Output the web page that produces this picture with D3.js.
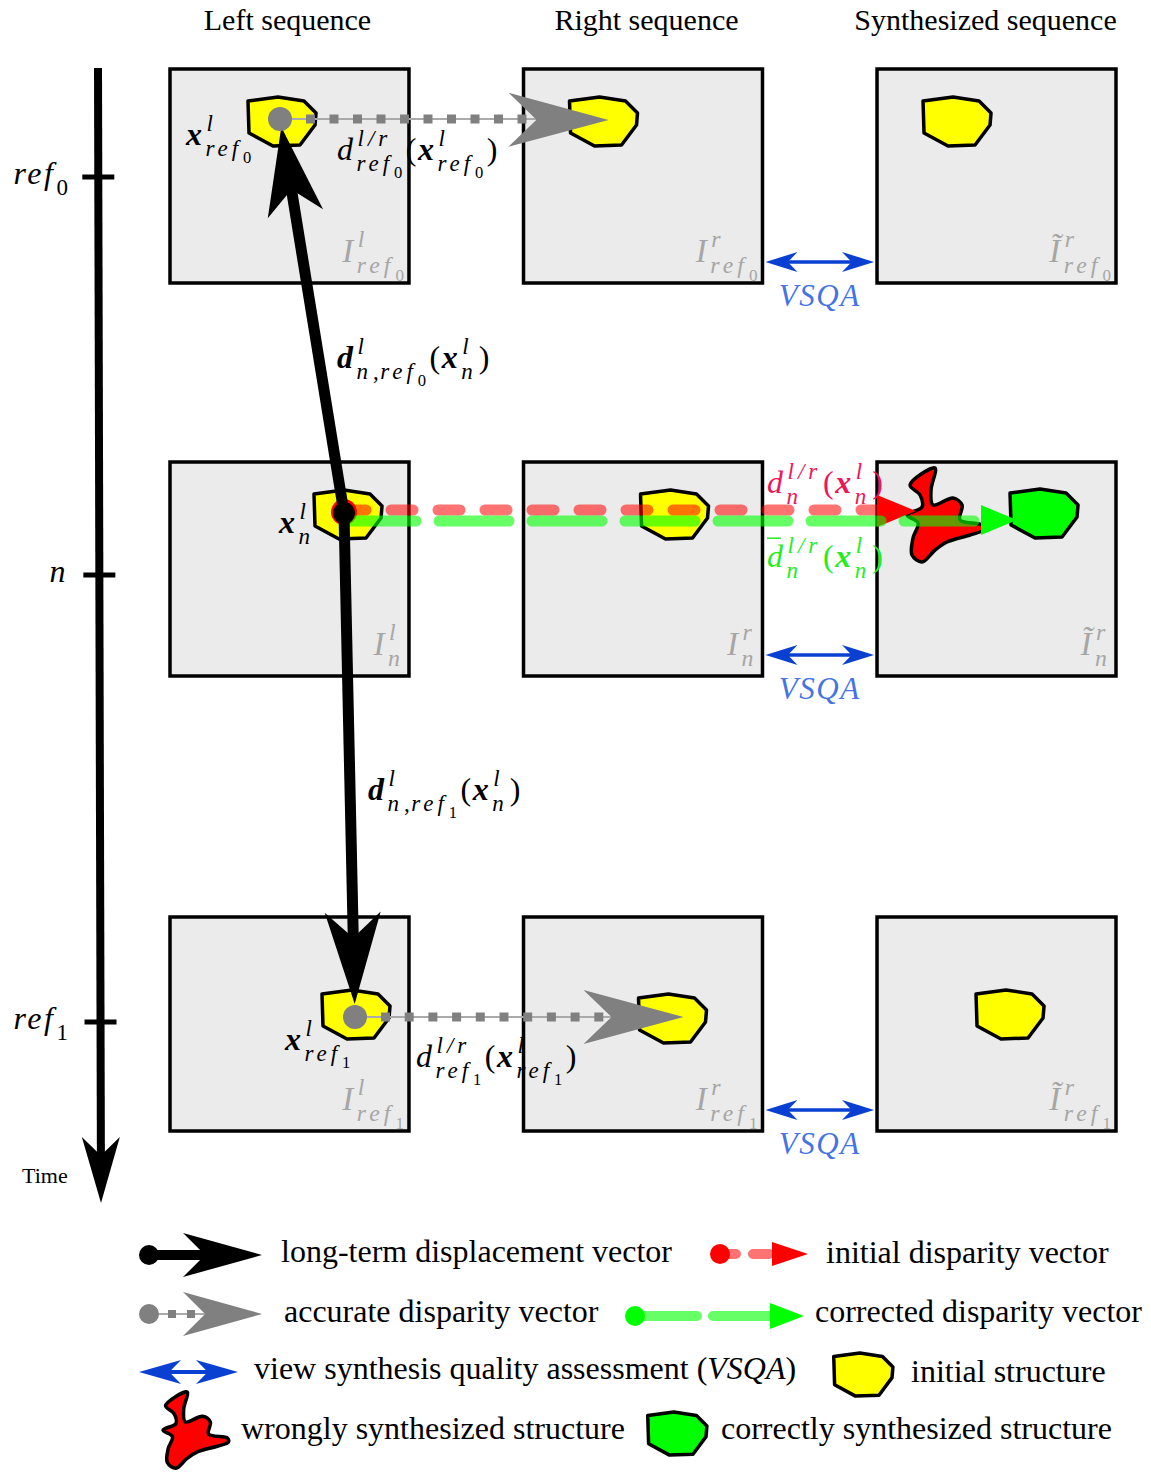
<!DOCTYPE html>
<html>
<head>
<meta charset="utf-8">
<script src="https://cdn.jsdelivr.net/npm/d3@7"></script>
<style>
  body { margin: 0; background: #fff; }
  text { font-family: "Liberation Serif", "Times New Roman", serif; }
</style>
</head>
<body>
<div id="chart"></div>
<script>
// ---------- content ----------
const columns = ['Left sequence', 'Right sequence', 'Synthesized sequence'];
const viewSup = ['l', 'r', 'r'];
const viewTilde = [false, false, true];
const frames = ['ref0', 'n', 'ref1'];

// what sits in each panel (frame, column, kind)
const structures = [
    { frame: 'ref0', col: 0, kind: 'initial' },
    { frame: 'ref0', col: 1, kind: 'initial' },
    { frame: 'ref0', col: 2, kind: 'initial' },
    { frame: 'n', col: 0, kind: 'initial' },
    { frame: 'n', col: 1, kind: 'initial' },
    { frame: 'n', col: 2, kind: 'wrong' },
    { frame: 'n', col: 2, kind: 'correct' },
    { frame: 'ref1', col: 0, kind: 'initial' },
    { frame: 'ref1', col: 1, kind: 'initial' },
    { frame: 'ref1', col: 2, kind: 'initial' }
];

const legendItems = [
    { key: 'long', label: 'long-term displacement vector' },
    { key: 'initVec', label: 'initial disparity vector' },
    { key: 'accurate', label: 'accurate disparity vector' },
    { key: 'corrected', label: 'corrected disparity vector' },
    { key: 'vsqa', label: 'view synthesis quality assessment (', italic: 'VSQA', tail: ')' },
    { key: 'initStruct', label: 'initial structure' },
    { key: 'wrong', label: 'wrongly synthesized structure' },
    { key: 'correct', label: 'correctly synthesized structure' }
];

const colors = {
    panel: '#ebebeb', initial: '#ffff00', correct: '#00ff00', wrong: '#ff0000',
    gray: '#808080', blue: '#0a40d2', vsqaText: '#4474e4',
    redLabel: '#f0145a', greenLabel: '#22ee22', imgLabel: '#a6a6a6'
};

// math helpers (text content)
const REF = k => [{ t: 'ref' }, { sub: [{ t: String(k), r: 1 }] }];
const FR = f => f === 'n' ? [{ t: 'n' }] : REF(f.slice(3));
const X = sub => [{ t: 'x', b: 1 }, { sup: [{ t: 'l' }], sub: sub }];

// ---------- layout ----------
const W = 1151, H = 1472;
const svg = d3.select('#chart').append('svg').attr('width', W).attr('height', H);

const xCol = d3.scaleBand().domain(columns).range([170, 1116]).paddingInner(0.324);
const yRow = d3.scaleOrdinal().domain(frames).range([69, 462, 917]);
const panelH = 214;
const panelW = xCol.bandwidth();
const P = (frame, ci, off) => [xCol(columns[ci]) + off[0], yRow(frame) + off[1]];
const headerShift = [-2, 3.5, -11];

const structOffset = {
    'ref0-0': [76, 28], 'ref0-1': [44, 28], 'ref0-2': [44, 28],
    'n-0': [142, 28], 'n-1': [115, 28], 'n-2-correct': [131, 27], 'n-2-wrong': [30, 6],
    'ref1-0': [150, 73], 'ref1-1': [113, 77], 'ref1-2': [97, 73]
};
const pointOffset = { ref0: [110, 50], n: [174, 51], ref1: [185, 100] };

const blob = [[2, 4], [32, 0], [58, 4], [70, 16], [69, 28], [54, 48], [27, 49], [3, 36]];
const star = [[3, 17], [28, 0], [24, 22], [26, 37], [46, 30], [55, 37], [53, 52], [75, 57], [76, 62],
    [63, 67], [40, 74], [28, 82], [15, 94], [5, 87], [6, 70], [11, 55], [0, 47], [15, 39], [13, 27]];

const polyLine = d3.line().curve(d3.curveLinearClosed);
const starLine = d3.line().curve(d3.curveCatmullRomClosed.alpha(0.5));

function drawShape(g, kind, x, y, sx, sy) {
    const pts = kind === 'wrong' ? star : blob;
    g.append('path')
        .attr('d', (kind === 'wrong' ? starLine : polyLine)(pts.map(p => [x + p[0] * sx, y + p[1] * sy])))
        .attr('fill', colors[kind])
        .attr('stroke', '#000').attr('stroke-width', 3.5).attr('stroke-linejoin', 'round');
}

// arrowhead: tip, direction taken from `from`; notch = distance of notch from tip (fraction of L)
function head(g, tip, from, L, Wd, notch, fill) {
    const dx = tip[0] - from[0], dy = tip[1] - from[1], len = Math.hypot(dx, dy);
    const ux = dx / len, uy = dy / len, nx = -uy, ny = ux;
    const bx = tip[0] - ux * L, by = tip[1] - uy * L;
    const pts = [tip, [bx + nx * Wd, by + ny * Wd], [tip[0] - ux * L * notch, tip[1] - uy * L * notch], [bx - nx * Wd, by - ny * Wd]];
    g.append('path').attr('d', d3.line()(pts) + 'Z').attr('fill', fill);
}

// math text renderer, returns end x
function math(g, x, y, items, size, color) {
    let cx = x;
    const script = size < 28;
    items.forEach(it => {
        if (it.t !== undefined) {
            const ls = it.r ? 0 : size * (script ? 0.17 : 0.08);
            const t = g.append('text').attr('x', cx).attr('y', y)
                .style('font-size', size + 'px')
                .style('font-style', it.r ? 'normal' : 'italic')
                .style('font-weight', it.b ? 'bold' : 'normal')
                .style('letter-spacing', ls + 'px')
                .attr('fill', color).text(it.t);
            const w = t.node().getComputedTextLength();
            if (it.bar) {
                g.append('line').attr('x1', cx).attr('x2', cx + w * 0.75)
                    .attr('y1', y - size * 0.9).attr('y2', y - size * 0.9)
                    .attr('stroke', color).attr('stroke-width', 1.5);
            }
            cx += w + (it.r ? 1.5 : 1);
        } else {
            const s = size * 0.72;
            const e1 = it.sup ? math(g, cx + 1, y - size * 0.45, it.sup, s, color) : cx;
            const e2 = it.sub ? math(g, cx, y + size * 0.33, it.sub, s, color) : cx;
            cx = Math.max(e1, e2) + 1;
        }
    });
    return cx;
}

const root = svg.append('g');

// ---------- column headers ----------
root.selectAll('text.header').data(columns).join('text')
    .attr('class', 'header')
    .attr('x', (d, i) => xCol(d) + panelW / 2 + headerShift[i])
    .attr('y', 30)
    .attr('text-anchor', 'middle')
    .style('font-size', '30px')
    .text(d => d);

// ---------- time axis ----------
const axisX = y => 98 + 3 * (y - 68) / 1132;
const timeAxis = root.append('g');
timeAxis.append('line')
    .attr('x1', axisX(68)).attr('y1', 68).attr('x2', axisX(1160)).attr('y2', 1160)
    .attr('stroke', '#000').attr('stroke-width', 8);
head(timeAxis, [axisX(1203), 1203], [axisX(68), 68], 66, 19, 0.72, '#000');
const tickY = d3.scaleOrdinal().domain(frames).range([177, 575, 1022]);
timeAxis.selectAll('line.tick').data(frames).join('line')
    .attr('class', 'tick')
    .attr('x1', d => axisX(tickY(d)) - 16).attr('x2', d => axisX(tickY(d)) + 16)
    .attr('y1', d => tickY(d)).attr('y2', d => tickY(d))
    .attr('stroke', '#000').attr('stroke-width', 5);
frames.forEach(f => {
    const lg = timeAxis.append('g');
    math(lg, 0, 0, FR(f), 32, '#000');
    const bb = lg.node().getBBox();
    lg.attr('transform', `translate(${68 - bb.width - bb.x},${tickY(f) + 7})`);
});
timeAxis.append('text').attr('x', 22).attr('y', 1183).style('font-size', '22px').text('Time');

// ---------- panels ----------
const panels = [];
frames.forEach(f => columns.forEach((c, i) => panels.push({ frame: f, ci: i })));
root.selectAll('rect.panel').data(panels).join('rect')
    .attr('class', 'panel')
    .attr('x', d => xCol(columns[d.ci])).attr('y', d => yRow(d.frame))
    .attr('width', panelW).attr('height', panelH)
    .attr('fill', colors.panel).attr('stroke', '#000').attr('stroke-width', 3.5);

// image labels in the corner of each panel
panels.forEach(d => {
    const lg = root.append('g');
    math(lg, 0, 0, [{ t: viewTilde[d.ci] ? '\u0128' : 'I' }, { sup: [{ t: viewSup[d.ci] }], sub: FR(d.frame) }], 33, colors.imgLabel);
    const bb = lg.node().getBBox();
    const px = xCol(columns[d.ci]) + panelW - 5 - (bb.x + bb.width);
    const py = yRow(d.frame) + panelH - 21;
    lg.attr('transform', `translate(${px},${py})`);
});

// ---------- structures ----------
structures.forEach(s => {
    const key = s.frame === 'n' && s.col === 2 ? `n-2-${s.kind}` : `${s.frame}-${s.col}`;
    const [x, y] = P(s.frame, s.col, structOffset[key]);
    drawShape(root, s.kind, x, y, 1, 1);
});

// ---------- VSQA arrows ----------
frames.forEach(f => {
    const y = yRow(f) + panelH - 21;
    const x1 = xCol(columns[1]) + panelW + 3, x2 = xCol(columns[2]) - 3;
    const vg = root.append('g');
    vg.append('line').attr('x1', x1 + 15).attr('x2', x2 - 15).attr('y1', y).attr('y2', y)
        .attr('stroke', colors.blue).attr('stroke-width', 3.5);
    head(vg, [x2, y], [x1, y], 32, 10, 0.7, colors.blue);
    head(vg, [x1, y], [x2, y], 32, 10, 0.7, colors.blue);
    vg.append('text').attr('x', (x1 + x2) / 2).attr('y', yRow(f) + panelH + 23)
        .attr('text-anchor', 'middle').style('font-size', '31px').style('font-style', 'italic')
        .style('letter-spacing', '1.5px')
        .attr('fill', colors.vsqaText).text('VSQA');
});

// ---------- disparity vectors of frame n (initial / corrected) ----------
const pn = P('n', 0, pointOffset.n);
const redTip = P('n', 2, [39, 49]);
const greenTip = P('n', 2, [140, 58]);
root.append('circle').attr('cx', pn[0]).attr('cy', pn[1] - 1).attr('r', 13).attr('fill', '#ff0000');
root.append('line').attr('x1', pn[0]).attr('x2', redTip[0] - 36).attr('y1', pn[1] - 3).attr('y2', pn[1] - 3)
    .attr('stroke', '#ff0000').attr('stroke-opacity', 0.55).attr('stroke-width', 11)
    .attr('stroke-linecap', 'round').attr('stroke-dasharray', '22 25');
head(root, redTip, [pn[0], pn[1] - 3], 39, 16, 1, '#ff0000');
root.append('line').attr('x1', pn[0] + 2).attr('x2', greenTip[0] - 32).attr('y1', pn[1] + 8).attr('y2', pn[1] + 8)
    .attr('stroke', '#00ff00').attr('stroke-opacity', 0.6).attr('stroke-width', 11)
    .attr('stroke-linecap', 'round').attr('stroke-dasharray', '70 23');
head(root, greenTip, [pn[0], pn[1] + 8], 36, 15, 1, '#00ff00');

// ---------- long-term displacement vectors ----------
const p0 = P('ref0', 0, pointOffset.ref0);
const p1 = P('ref1', 0, pointOffset.ref1);
function shaft(g, a, b, back, w, color) {
    const dx = b[0] - a[0], dy = b[1] - a[1], len = Math.hypot(dx, dy);
    g.append('line').attr('x1', a[0]).attr('y1', a[1])
        .attr('x2', b[0] - dx / len * back).attr('y2', b[1] - dy / len * back)
        .attr('stroke', color).attr('stroke-width', w);
}
shaft(root, pn, p0, 66, 11, '#000');
shaft(root, pn, p1, 72, 11, '#000');
head(root, [p0[0] + 1.3, p0[1] + 8], pn, 88, 28, 0.72, '#000');
head(root, [p1[0] - 0.3, p1[1] - 13], pn, 92, 28, 0.72, '#000');
root.append('circle').attr('cx', pn[0]).attr('cy', pn[1]).attr('r', 11).attr('fill', '#000');

// ---------- accurate disparity vectors of the reference frames ----------
function dotted(g, a, tip, L, Wd, sq, gap) {
    g.append('line').attr('x1', a[0]).attr('x2', tip[0] - L * 0.7).attr('y1', a[1]).attr('y2', a[1])
        .attr('stroke', '#aaaaaa').attr('stroke-width', 2);
    g.append('line').attr('x1', a[0] + 26).attr('x2', tip[0] - L * 0.8).attr('y1', a[1]).attr('y2', a[1])
        .attr('stroke', colors.gray).attr('stroke-width', sq).attr('stroke-dasharray', `${sq} ${gap}`);
    head(g, tip, a, L, Wd, 0.72, colors.gray);
    g.append('circle').attr('cx', a[0]).attr('cy', a[1]).attr('r', 12).attr('fill', colors.gray);
}
dotted(root, p0, P('ref0', 1, [85, 51]), 100, 27, 9, 14.5);
dotted(root, p1, P('ref1', 1, [160, 100]), 100, 27, 9, 14.7);

// ---------- math labels ----------
const M = 32;
math(root, 186, 145, X(REF(0)), M, '#000');
math(root, 337, 160, [{ t: 'd' }, { sup: [{ t: 'l/r' }], sub: REF(0) }, { t: '(', r: 1 }, ...X(REF(0)), { t: ')', r: 1 }], M, '#000');
math(root, 337, 368, [{ t: 'd', b: 1 }, { sup: [{ t: 'l' }], sub: [{ t: 'n' }, { t: ',', r: 1 }, ...REF(0)] }, { t: '(', r: 1 }, ...X([{ t: 'n' }]), { t: ')', r: 1 }], M, '#000');
math(root, 368, 800, [{ t: 'd', b: 1 }, { sup: [{ t: 'l' }], sub: [{ t: 'n' }, { t: ',', r: 1 }, ...REF(1)] }, { t: '(', r: 1 }, ...X([{ t: 'n' }]), { t: ')', r: 1 }], M, '#000');
math(root, 279, 533, X([{ t: 'n' }]), M, '#000');
math(root, 285, 1050, X(REF(1)), M, '#000');
math(root, 416, 1067, [{ t: 'd' }, { sup: [{ t: 'l/r' }], sub: REF(1) }, { t: '(', r: 1 }, ...X(REF(1)), { t: ')', r: 1 }], M, '#000');
math(root, 767, 493, [{ t: 'd' }, { sup: [{ t: 'l/r' }], sub: [{ t: 'n' }] }, { t: '(', r: 1 }, ...X([{ t: 'n' }]), { t: ')', r: 1 }], M, colors.redLabel);
math(root, 767, 567, [{ t: 'd', bar: 1 }, { sup: [{ t: 'l/r' }], sub: [{ t: 'n' }] }, { t: '(', r: 1 }, ...X([{ t: 'n' }]), { t: ')', r: 1 }], M, colors.greenLabel);

// ---------- legend ----------
const legendPos = {
    long: [281, 1262], initVec: [826, 1263], accurate: [284, 1322], corrected: [815, 1322],
    vsqa: [254, 1379], initStruct: [911, 1382], wrong: [241, 1439], correct: [721, 1439]
};
const leg = root.append('g');
legendItems.forEach(d => {
    const t = leg.append('text').attr('x', legendPos[d.key][0]).attr('y', legendPos[d.key][1])
        .style('font-size', '32px').text(d.label);
    if (d.italic) {
        t.append('tspan').style('font-style', 'italic').text(d.italic);
        t.append('tspan').text(d.tail);
    }
});
// symbols
leg.append('line').attr('x1', 149).attr('x2', 210).attr('y1', 1255).attr('y2', 1255).attr('stroke', '#000').attr('stroke-width', 10);
leg.append('circle').attr('cx', 149).attr('cy', 1255).attr('r', 10).attr('fill', '#000');
head(leg, [262, 1255], [149, 1255], 79, 22, 0.72, '#000');

leg.append('line').attr('x1', 149).attr('x2', 205).attr('y1', 1314).attr('y2', 1314).attr('stroke', '#aaaaaa').attr('stroke-width', 2);
leg.append('line').attr('x1', 168).attr('x2', 200).attr('y1', 1314).attr('y2', 1314).attr('stroke', colors.gray).attr('stroke-width', 8).attr('stroke-dasharray', '8 11');
leg.append('circle').attr('cx', 149).attr('cy', 1314).attr('r', 10).attr('fill', colors.gray);
head(leg, [262, 1314], [149, 1314], 79, 22, 0.72, colors.gray);

leg.append('line').attr('x1', 720).attr('x2', 782).attr('y1', 1254).attr('y2', 1254)
    .attr('stroke', '#ff0000').attr('stroke-opacity', 0.55).attr('stroke-width', 10)
    .attr('stroke-linecap', 'round').attr('stroke-dasharray', '16 17');
leg.append('circle').attr('cx', 720).attr('cy', 1254).attr('r', 10).attr('fill', '#ff0000');
head(leg, [808, 1254], [720, 1254], 36, 12, 1, '#ff0000');

leg.append('line').attr('x1', 640).attr('x2', 776).attr('y1', 1316).attr('y2', 1316)
    .attr('stroke', '#00ff00').attr('stroke-opacity', 0.6).attr('stroke-width', 10)
    .attr('stroke-linecap', 'round').attr('stroke-dasharray', '57 16');
leg.append('circle').attr('cx', 635).attr('cy', 1316).attr('r', 10).attr('fill', '#00ff00');
head(leg, [804, 1316], [635, 1316], 34, 13, 1, '#00ff00');

leg.append('line').attr('x1', 160).attr('x2', 218).attr('y1', 1372).attr('y2', 1372).attr('stroke', colors.blue).attr('stroke-width', 4);
head(leg, [139, 1372], [238, 1372], 42, 12, 0.72, colors.blue);
head(leg, [238, 1372], [139, 1372], 42, 12, 0.72, colors.blue);

drawShape(leg, 'wrong', 163, 1392, 0.86, 0.81);
drawShape(leg, 'initial', 832, 1353, 0.87, 0.88);
drawShape(leg, 'correct', 646, 1412, 0.87, 0.88);
</script>
</body>
</html>
